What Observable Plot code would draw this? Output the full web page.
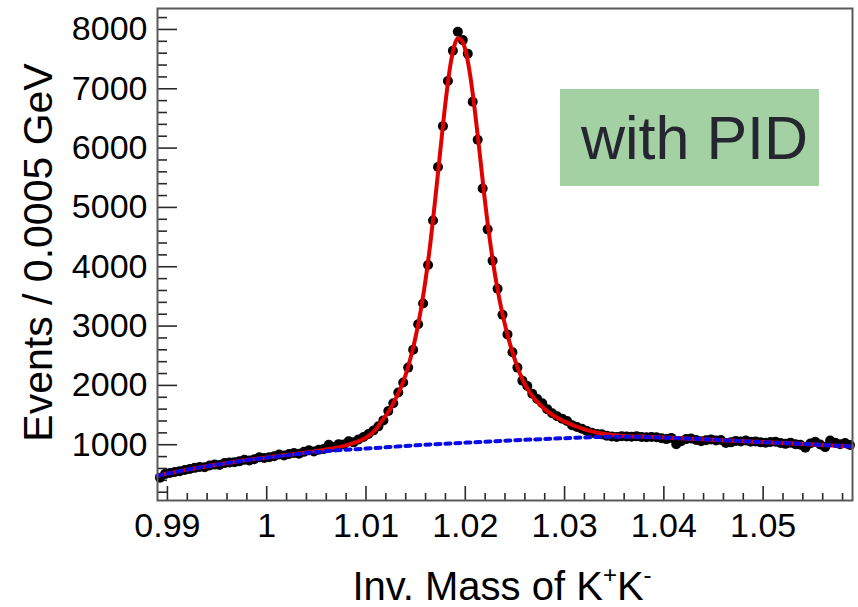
<!DOCTYPE html>
<html>
<head>
<meta charset="utf-8">
<script src="https://cdn.jsdelivr.net/npm/d3@7"></script>
<script src="https://cdn.jsdelivr.net/npm/@observablehq/plot@0.6"></script>
<style>
  html, body { margin: 0; padding: 0; background: #fff; }
  #wrap { position: relative; width: 858px; height: 607px; overflow: hidden; font-family: "Liberation Sans", Arial, Helvetica, sans-serif; }
  #wrap svg { display: block; }
  #pid { position: absolute; left: 560px; top: 89px; width: 259px; height: 97px; background: #a3d1a3; }
  #pid span { position: absolute; left: 21px; top: 19px; font-size: 61px; line-height: 61px; color: #262630; white-space: nowrap; }
  #xtitle { position: absolute; left: 0; width: 1004px; top: 569px; text-align: center; font-size: 40px; line-height: 34px; color: #000; white-space: nowrap; }
  #xtitle .sup { font-size: 24px; position: relative; top: -17px; }
</style>
</head>
<body>
<div id="wrap">
  <div id="pid"><span>with PID</span></div>
  <div id="xtitle">Inv. Mass of K<span class="sup">+</span>K<span class="sup">-</span></div>
</div>
<script>
// ---- data ----
const binStart = 0.989;
const binWidth = 0.0005;
const counts = [
  445, 505, 525, 540, 555, 575, 590, 610, 625, 620,
  650, 665, 660, 690, 700, 705, 720, 745, 735, 755,
  790, 775, 790, 805, 835, 820, 845, 860, 850, 880,
  905, 885, 915, 930, 1000, 960, 1010, 1005, 1060, 1040,
  1090, 1130, 1180, 1240, 1310, 1410, 1570, 1700, 1880, 2050,
  2300, 2600, 3030, 3380, 4030, 4780, 5680, 6370, 7130, 7640,
  7960, 7820, 7590, 6780, 6140, 5320, 4630, 4100, 3630, 3190,
  2860, 2560, 2300, 2080, 1990, 1860, 1770, 1700, 1600, 1530,
  1480, 1440, 1400, 1330, 1300, 1270, 1230, 1200, 1180, 1175,
  1150, 1140, 1130, 1145, 1140, 1135, 1145, 1130, 1125, 1130,
  1125, 1110, 1095, 1115, 1010, 1060, 1095, 1105, 1080, 1060,
  1075, 1090, 1070, 1080, 1030, 1040, 1065, 1055, 1070, 1050,
  1055, 1040, 1035, 1045, 1050, 1030, 1015, 1035, 1010, 1000,
  950, 1020, 1050, 1005, 960, 1070, 1035, 1010, 1030, 995
];

const fitMass = [
  0.989, 0.992, 0.995, 0.998, 1.001, 1.004, 1.006, 1.008, 1.009, 1.010,
  1.011, 1.0115, 1.012, 1.0125, 1.013, 1.0135, 1.014, 1.0145, 1.015, 1.0155,
  1.016, 1.0165, 1.017, 1.0175, 1.018, 1.0185, 1.019, 1.0193, 1.0197, 1.020,
  1.0205, 1.021, 1.0215, 1.022, 1.0225, 1.023, 1.0235, 1.024, 1.0245, 1.025,
  1.0255, 1.026, 1.0265, 1.027, 1.028, 1.029, 1.030, 1.031, 1.032, 1.033,
  1.034, 1.035, 1.036, 1.038, 1.040, 1.045, 1.050, 1.055, 1.059
];
const fitValue = [
  478, 580, 665, 742, 805, 870, 920, 990, 1045, 1120,
  1260, 1380, 1490, 1620, 1780, 1960, 2180, 2470, 2820, 3250,
  3780, 4420, 5180, 5980, 6760, 7400, 7780, 7850, 7800, 7660,
  7220, 6580, 5840, 5080, 4420, 3860, 3400, 3020, 2700, 2430,
  2200, 2020, 1880, 1770, 1600, 1480, 1390, 1320, 1260, 1215,
  1180, 1160, 1148, 1135, 1122, 1085, 1045, 1005, 970
];

const bkgMass = [
  0.989, 0.992, 0.995, 0.998, 1.001, 1.004, 1.007, 1.010, 1.015, 1.020,
  1.025, 1.030, 1.035, 1.040, 1.045, 1.050, 1.055, 1.059
];
const bkgValue = [
  478, 580, 665, 740, 800, 860, 905, 935, 990, 1035,
  1075, 1110, 1135, 1120, 1085, 1045, 1005, 970
];

const xTicks = [0.99, 1, 1.01, 1.02, 1.03, 1.04, 1.05];
const xTickLabels = ["0.99", "1", "1.01", "1.02", "1.03", "1.04", "1.05"];
const yTicks = [1000, 2000, 3000, 4000, 5000, 6000, 7000, 8000];
const yTickLabels = ["1000", "2000", "3000", "4000", "5000", "6000", "7000", "8000"];
const xMinorStep = 0.002;
const yMinorStep = 200;

const yTitle = "Events / 0.0005 GeV";

// ---- derived tables ----
const points = counts.map((c, i) => ({mass: binStart + binWidth * (i + 0.5), events: c}));
const fit = fitMass.map((m, i) => ({mass: m, events: fitValue[i]}));
const bkg = bkgMass.map((m, i) => ({mass: m, events: bkgValue[i]}));
const isMajorX = v => xTicks.some(t => Math.abs(t - v) < 1e-6);
const isMajorY = v => yTicks.includes(v);
const xMinor = d3.range(0.99, 1.0589, xMinorStep).filter(v => !isMajorX(v));
const yMinor = d3.range(yMinorStep, 8300, yMinorStep).filter(v => !isMajorY(v));

const W = 858, H = 607;
const mL = 157, mR = 6, mT = 8, mB = 107;
const frameW = W - mL - mR, frameH = H - mT - mB;
const tickColor = "#2a2a2a";

const chart = Plot.plot({
  width: W,
  height: H,
  marginLeft: mL,
  marginRight: mR,
  marginTop: mT,
  marginBottom: mB,
  style: {fontFamily: "'Liberation Sans', Arial, Helvetica, sans-serif", fontSize: "34px", color: "#000", background: "transparent"},
  x: {domain: [0.989, 1.059]},
  y: {domain: [60, 8353]},
  marks: [
    // inward ticks
    Plot.ruleX(xTicks, {x: d => d, insetTop: frameH - 14, stroke: tickColor, strokeWidth: 1.6}),
    Plot.ruleX(xMinor, {x: d => d, insetTop: frameH - 7, stroke: tickColor, strokeWidth: 1.6}),
    Plot.ruleY(yTicks, {y: d => d, insetRight: frameW - 20, stroke: tickColor, strokeWidth: 1.6}),
    Plot.ruleY(yMinor, {y: d => d, insetRight: frameW - 10, stroke: tickColor, strokeWidth: 1.6}),
    // tick labels
    Plot.axisX(xTicks, {tickSize: 0, tickPadding: 12, tickFormat: d => xTickLabels[xTicks.indexOf(d)], label: null, fontSize: 34}),
    Plot.axisY(yTicks, {tickSize: 0, tickPadding: 10, tickFormat: d => yTickLabels[yTicks.indexOf(d)], label: null, fontSize: 34}),
    // y title
    Plot.text([yTitle], {frameAnchor: "left", textAnchor: "middle", text: d => d, rotate: -90, dx: -119, dy: -2, fontSize: 41, fill: "#000"}),
    // data
    Plot.dot(points, {x: "mass", y: "events", r: 5, fill: "#000", stroke: "none"}),
    Plot.line(fit, {x: "mass", y: "events", stroke: "#e00000", strokeWidth: 4, curve: "monotone-x"}),
    Plot.line(bkg, {x: "mass", y: "events", stroke: "#0a0ae6", strokeWidth: 4, strokeDasharray: "5,5", curve: "monotone-x"}),
    Plot.frame({stroke: "#5a5a5a", strokeWidth: 2})
  ]
});

document.getElementById("wrap").prepend(chart);
</script>
</body>
</html>
